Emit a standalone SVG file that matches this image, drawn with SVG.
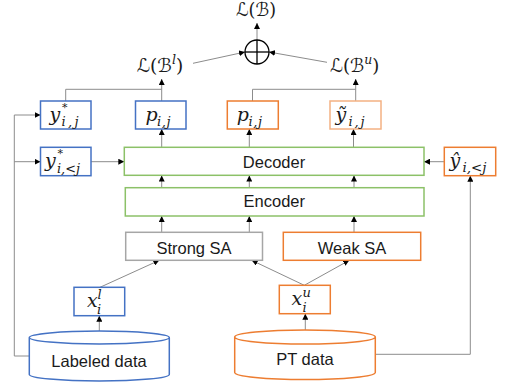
<svg xmlns="http://www.w3.org/2000/svg" width="505" height="387" viewBox="0 0 505 387">
<style>
  .box { fill: #ffffff; stroke-width: 1.5; }
  .blue { stroke: #4472C4; }
  .orange { stroke: #ED7D31; }
  .lorange { stroke: #F4B183; }
  .green { stroke: #8CC168; }
  .gray { stroke: #A6A6A6; }
  .lbl { font-family: "Liberation Sans", Arial, sans-serif; font-size: 16.5px; fill: #1a1a1a; text-anchor: middle; }
  .m { font-family: "DejaVu Serif", serif; font-style: italic; font-size: 19px; fill: #1a1a1a; }
  .s { font-family: "DejaVu Serif", serif; font-style: italic; font-size: 13px; fill: #1a1a1a; }
  .st { font-family: "DejaVu Serif", serif; font-size: 11px; fill: #1a1a1a; }
  .L { font-family: "DejaVu Serif", "DejaVu Sans", serif; font-size: 19px; fill: #1a1a1a; }
  .c { fill: none; stroke: #8C8C8C; stroke-width: 1; }
  .ca { fill: none; stroke: #8C8C8C; stroke-width: 1; marker-end: url(#ah); }
</style>
<defs>
  <marker id="ah" markerUnits="userSpaceOnUse" markerWidth="6" markerHeight="6" viewBox="0 0 6 6" refX="6" refY="3" orient="auto">
    <path d="M0,0 L6,3 L0,6 z" fill="#000000"/>
  </marker>
</defs>

<g id="connectors">
  <line class="ca" x1="257" y1="40" x2="257" y2="23"/>
  <line class="ca" x1="193" y1="63.3" x2="245" y2="52"/>
  <line class="ca" x1="327" y1="62.3" x2="269" y2="52"/>
  <polyline class="c" points="65.7,101 65.7,89.3 161.7,89.3"/>
  <line class="ca" x1="161.7" y1="101" x2="161.7" y2="79"/>
  <polyline class="c" points="252.5,101 252.5,89.3 355.7,89.3"/>
  <line class="ca" x1="355.7" y1="101" x2="355.7" y2="79"/>
  <line class="ca" x1="161.7" y1="147.3" x2="161.7" y2="129"/>
  <line class="ca" x1="249.3" y1="147.3" x2="249.3" y2="129"/>
  <line class="ca" x1="353.5" y1="147.3" x2="353.5" y2="129"/>
  <line class="ca" x1="161.7" y1="187.7" x2="161.7" y2="175.5"/>
  <line class="ca" x1="249.3" y1="187.7" x2="249.3" y2="175.5"/>
  <line class="ca" x1="354" y1="187.7" x2="354" y2="175.5"/>
  <line class="ca" x1="161.7" y1="232.3" x2="161.7" y2="216"/>
  <line class="ca" x1="249.3" y1="232.3" x2="249.3" y2="216"/>
  <line class="ca" x1="354" y1="232.3" x2="354" y2="216"/>
  <line class="ca" x1="100" y1="287.3" x2="159.3" y2="260.3"/>
  <line class="ca" x1="304.3" y1="285.3" x2="251.7" y2="260.3"/>
  <line class="ca" x1="304.3" y1="285.3" x2="349.3" y2="260.3"/>
  <line class="ca" x1="99.3" y1="331" x2="99.3" y2="315.7"/>
  <line class="ca" x1="305.3" y1="330" x2="305.3" y2="313.7"/>
  <polyline class="ca" points="29.3,356 14.3,356 14.3,115 40.5,115"/>
  <line class="ca" x1="14.3" y1="161.7" x2="40.5" y2="161.7"/>
  <line class="ca" x1="91" y1="161.7" x2="124.3" y2="161.7"/>
  <polyline class="ca" points="375.3,354.3 470.3,354.3 470.3,175.7"/>
  <line class="ca" x1="444.3" y1="161.7" x2="424" y2="161.7"/>
</g>

<g id="loss-total">
  <text class="L" x="236" y="16" textLength="40" lengthAdjust="spacingAndGlyphs">ℒ(ℬ)</text>
</g>
<g id="oplus">
  <circle cx="257" cy="52" r="12" fill="#ffffff" stroke="#000000" stroke-width="1.3"/>
  <line x1="245" y1="52" x2="269" y2="52" stroke="#000000" stroke-width="1.3"/>
  <line x1="257" y1="40" x2="257" y2="64" stroke="#000000" stroke-width="1.3"/>
</g>
<g id="loss-l">
  <text class="L" x="136.7" y="72" textLength="46.6" lengthAdjust="spacingAndGlyphs">ℒ(ℬ<tspan font-style="italic" font-size="13" dy="-8">l</tspan><tspan dy="8">)</tspan></text>
</g>
<g id="loss-u">
  <text class="L" x="330" y="72" textLength="49.3" lengthAdjust="spacingAndGlyphs">ℒ(ℬ<tspan font-style="italic" font-size="13" dy="-8">u</tspan><tspan dy="8">)</tspan></text>
</g>

<g id="y-star-ij">
  <rect class="box blue" x="40.5" y="101" width="50.5" height="28"/>
  <text class="m" x="49.5" y="120.5">y</text>
  <text class="st" x="62" y="110.5">*</text>
  <text class="s" x="61.5" y="126" textLength="17" lengthAdjust="spacing">i,j</text>
</g>
<g id="p-ij-l">
  <rect class="box blue" x="135.5" y="101" width="50.5" height="28"/>
  <text class="m" x="145.5" y="120.5">p</text>
  <text class="s" x="157" y="125.5" textLength="13.5" lengthAdjust="spacing">i,j</text>
</g>
<g id="p-ij-u">
  <rect class="box orange" x="227.3" y="101" width="51" height="28"/>
  <text class="m" x="236.8" y="120.5">p</text>
  <text class="s" x="248.5" y="125.5" textLength="13.5" lengthAdjust="spacing">i,j</text>
</g>
<g id="y-tilde-ij">
  <rect class="box lorange" x="330" y="101" width="51" height="28"/>
  <text class="m" x="335.5" y="120.5">ỹ</text>
  <text class="s" x="348.5" y="125.5" textLength="16" lengthAdjust="spacing">i,j</text>
</g>

<g id="y-star-lt-j">
  <rect class="box blue" x="40.5" y="147.3" width="50.5" height="28.4"/>
  <text class="m" x="45" y="167">y</text>
  <text class="st" x="57.5" y="157">*</text>
  <text class="s" x="57" y="172.5" textLength="23" lengthAdjust="spacingAndGlyphs">i,&lt;j</text>
</g>
<g id="decoder">
  <rect class="box green" x="124.3" y="147.3" width="299.7" height="28"/>
  <text class="lbl" x="274" y="168">Decoder</text>
</g>
<g id="y-hat-lt-j">
  <rect class="box orange" x="444.3" y="147.3" width="51.4" height="28.4"/>
  <text class="m" x="449.5" y="167">ŷ</text>
  <text class="s" x="462.5" y="172" textLength="24" lengthAdjust="spacingAndGlyphs">i,&lt;j</text>
</g>
<g id="encoder">
  <rect class="box green" x="125.3" y="187.7" width="298.7" height="28.3"/>
  <text class="lbl" x="274.3" y="207.3">Encoder</text>
</g>
<g id="strong-sa">
  <rect class="box gray" x="125.7" y="232.3" width="136.8" height="28"/>
  <text class="lbl" x="194" y="253.5">Strong SA</text>
</g>
<g id="weak-sa">
  <rect class="box orange" x="283.3" y="232.3" width="137.4" height="28"/>
  <text class="lbl" x="352" y="253.5">Weak SA</text>
</g>
<g id="x-l">
  <rect class="box blue" x="74" y="287.3" width="50.7" height="28.4"/>
  <text class="m" x="87" y="307">x</text>
  <text class="s" x="97.5" y="299">l</text>
  <text class="s" x="97" y="313.5">i</text>
</g>
<g id="x-u">
  <rect class="box orange" x="279.3" y="285.3" width="51" height="28.4"/>
  <text class="m" x="291.5" y="305">x</text>
  <text class="s" x="302.5" y="297">u</text>
  <text class="s" x="302.5" y="311.5">i</text>
</g>
<g id="labeled-data">
  <path class="box blue" d="M29.3,337.5 V374.5 A70,6.5 0 0 0 169.3,374.5 V337.5 A70,6.5 0 0 0 29.3,337.5 A70,6.5 0 0 0 169.3,337.5"/>
  <text class="lbl" x="99" y="366.7">Labeled data</text>
</g>
<g id="pt-data">
  <path class="box orange" d="M234.7,337 V372.5 A70.3,7 0 0 0 375.3,372.5 V337 A70.3,7 0 0 0 234.7,337 A70.3,7 0 0 0 375.3,337"/>
  <text class="lbl" x="305" y="365">PT data</text>
</g>
</svg>
